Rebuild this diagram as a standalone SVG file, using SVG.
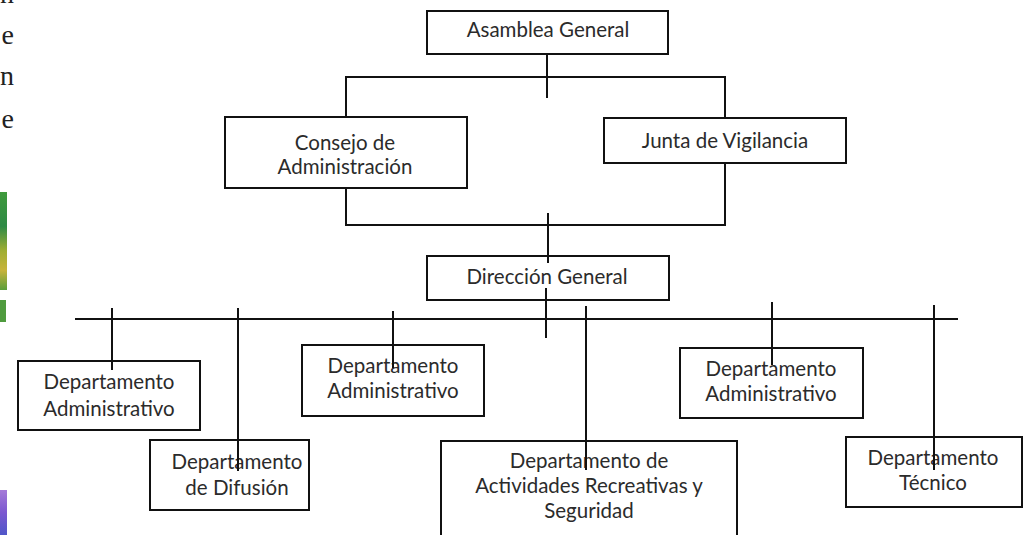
<svg xmlns="http://www.w3.org/2000/svg" width="1023" height="535" viewBox="0 0 1023 535">
  <defs>
    <linearGradient id="leafGreen" x1="0" y1="0" x2="0" y2="1">
      <stop offset="0" stop-color="#3f9a3c"/>
      <stop offset="0.35" stop-color="#2e8a45"/>
      <stop offset="0.6" stop-color="#9fae32"/>
      <stop offset="0.8" stop-color="#c7b33a"/>
      <stop offset="1" stop-color="#5a9e3a"/>
    </linearGradient>
    <linearGradient id="violet" x1="0" y1="0" x2="0" y2="1">
      <stop offset="0" stop-color="#a57ad8"/>
      <stop offset="0.5" stop-color="#7b58d0"/>
      <stop offset="1" stop-color="#4f56c8"/>
    </linearGradient>
    <style>
      .box { fill: #ffffff; stroke: #111111; stroke-width: 2; }
      .lbl { font-family: Lato, "Open Sans", "Liberation Sans", sans-serif; font-size: 20.5px; fill: #2b2b2b; text-anchor: middle; }
      .edge { stroke: #111111; stroke-width: 2; fill: none; }
      .side { font-family: "Liberation Serif", serif; font-size: 28px; fill: #222222; text-anchor: end; }
    </style>
  </defs>

  <rect width="1023" height="535" fill="#ffffff"/>

  <!-- margin: clipped neighbouring column text and picture strips -->
  <g id="margin">
    <text class="side" x="14" y="3">n</text>
    <text class="side" x="14" y="44">e</text>
    <text class="side" x="14" y="85">n</text>
    <text class="side" x="14" y="128">e</text>
    <rect x="0" y="192" width="7" height="98" fill="url(#leafGreen)"/>
    <rect x="0" y="300" width="6" height="22" fill="#4f9b3e"/>
    <rect x="0" y="490" width="7" height="45" fill="url(#violet)"/>
  </g>

  <g id="asamblea">
    <rect class="box" x="427" y="11" width="241" height="43"/>
    <text class="lbl" x="548" y="37">Asamblea General</text>
  </g>

  <g id="consejo">
    <rect class="box" x="225" y="117" width="242" height="71"/>
    <text class="lbl" x="345" y="150">Consejo de</text>
    <text class="lbl" x="345" y="174">Administración</text>
  </g>

  <g id="junta">
    <rect class="box" x="604" y="118" width="242" height="45"/>
    <text class="lbl" x="725" y="148">Junta de Vigilancia</text>
  </g>

  <g id="direccion">
    <rect class="box" x="427" y="256" width="242" height="44"/>
    <text class="lbl" x="547" y="284">Dirección General</text>
  </g>

  <g id="dep-administrativo-1">
    <rect class="box" x="18" y="361" width="182" height="69"/>
    <text class="lbl" x="109" y="389">Departamento</text>
    <text class="lbl" x="109" y="416">Administrativo</text>
  </g>

  <g id="dep-difusion">
    <rect class="box" x="150" y="440" width="159" height="70"/>
    <text class="lbl" x="237" y="469">Departamento</text>
    <text class="lbl" x="237" y="495">de Difusión</text>
  </g>

  <g id="dep-administrativo-2">
    <rect class="box" x="302" y="345" width="182" height="71"/>
    <text class="lbl" x="393" y="373">Departamento</text>
    <text class="lbl" x="393" y="398">Administrativo</text>
  </g>

  <g id="dep-actividades">
    <rect class="box" x="441" y="441" width="296" height="100"/>
    <text class="lbl" x="589" y="468">Departamento de</text>
    <text class="lbl" x="589" y="493">Actividades Recreativas y</text>
    <text class="lbl" x="589" y="518">Seguridad</text>
  </g>

  <g id="dep-administrativo-3">
    <rect class="box" x="680" y="348" width="183" height="70"/>
    <text class="lbl" x="771" y="376">Departamento</text>
    <text class="lbl" x="771" y="401">Administrativo</text>
  </g>

  <g id="dep-tecnico">
    <rect class="box" x="846" y="437" width="176" height="70"/>
    <text class="lbl" x="933" y="465">Departamento</text>
    <text class="lbl" x="933" y="490">Técnico</text>
  </g>

  <g id="connectors" class="edge">
    <line x1="547" y1="54" x2="547" y2="98"/>
    <line x1="345" y1="77" x2="726" y2="77"/>
    <line x1="346" y1="77" x2="346" y2="117"/>
    <line x1="725" y1="77" x2="725" y2="118"/>
    <line x1="346" y1="188" x2="346" y2="225"/>
    <line x1="725" y1="163" x2="725" y2="225"/>
    <line x1="345" y1="225" x2="726" y2="225"/>
    <line x1="548" y1="213" x2="548" y2="263"/>
    <line x1="546" y1="288" x2="546" y2="338"/>
    <line x1="75" y1="319" x2="958" y2="319"/>
    <line x1="112" y1="308" x2="112" y2="370"/>
    <line x1="238" y1="308" x2="238" y2="471"/>
    <line x1="393" y1="311" x2="393" y2="368"/>
    <line x1="586" y1="306" x2="586" y2="470"/>
    <line x1="772" y1="302" x2="772" y2="365"/>
    <line x1="934" y1="305" x2="934" y2="470"/>
  </g>
</svg>
